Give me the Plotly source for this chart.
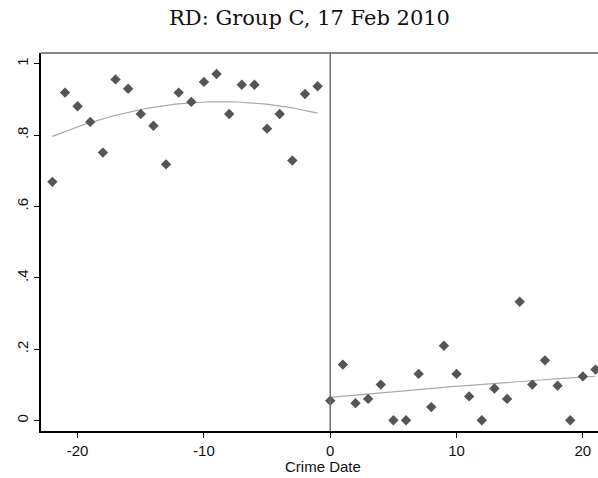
import numpy as np
import plotly.graph_objects as go

title_text = "RD: Group C, 17 Feb 2010"
x_title = "Crime Date"

x_left = list(range(-22, 0))
y_left = [0.669, 0.919, 0.881, 0.837, 0.751, 0.956, 0.930, 0.859, 0.826, 0.718, 0.919,
          0.893, 0.949, 0.971, 0.859, 0.941, 0.941, 0.818, 0.859, 0.729, 0.915, 0.937]

x_right = list(range(0, 22))
y_right = [0.056, 0.157, 0.049, 0.061, 0.101, 0.001, 0.001, 0.131, 0.038, 0.210, 0.131,
           0.068, 0.001, 0.090, 0.061, 0.333, 0.101, 0.169, 0.098, 0.001, 0.124, 0.143]

x_ticks = [-20, -10, 0, 10, 20]
x_tick_labels = ["-20", "-10", "0", "10", "20"]
y_ticks = [0, 0.2, 0.4, 0.6, 0.8, 1]
y_tick_labels = ["0", ".2", ".4", ".6", ".8", "1"]

# quadratic fits on each side of the cutoff
cl = np.polyfit(x_left, y_left, 2)
cr = np.polyfit(x_right, y_right, 2)
xl_fit = np.linspace(-22, -1, 60)
xr_fit = np.linspace(0, 21, 60)

marker_color = "#555555"
fit_color = "#a8a8a8"
sans = "Liberation Sans, Arial, sans-serif"

fig = go.Figure()
fig.add_trace(go.Scatter(x=xl_fit, y=np.polyval(cl, xl_fit), mode="lines",
                         line=dict(color=fit_color, width=1.2), showlegend=False))
fig.add_trace(go.Scatter(x=xr_fit, y=np.polyval(cr, xr_fit), mode="lines",
                         line=dict(color=fit_color, width=1.2), showlegend=False))
fig.add_trace(go.Scatter(x=x_left, y=y_left, mode="markers",
                         marker=dict(symbol="diamond", size=8, color=marker_color),
                         showlegend=False))
fig.add_trace(go.Scatter(x=x_right, y=y_right, mode="markers",
                         marker=dict(symbol="diamond", size=8, color=marker_color),
                         showlegend=False))

# vertical cutoff line and top frame
fig.add_shape(type="line", xref="x", yref="paper", x0=0, x1=0, y0=0, y1=1,
              line=dict(color="#707070", width=1.5))
fig.add_shape(type="line", xref="paper", yref="paper", x0=0, x1=1, y0=1, y1=1,
              line=dict(color="#606060", width=1.5))

fig.add_annotation(text=title_text, xref="paper", yref="paper", x=0.482, y=1,
                   xanchor="center", yanchor="middle", yshift=35, showarrow=False,
                   font=dict(family="DejaVu Serif, Liberation Serif, serif", size=21, color="#111"))
fig.add_annotation(text=x_title, xref="paper", yref="paper", x=0.507, y=0,
                   xanchor="center", yanchor="middle", yshift=-35, showarrow=False,
                   font=dict(family=sans, size=15, color="#111"))

fig.update_layout(
    width=598, height=478,
    margin=dict(l=41, r=0, t=53, b=47),
    paper_bgcolor="white", plot_bgcolor="white",
    font=dict(family=sans, size=15, color="#111"),
    xaxis=dict(range=[-22.9, 21.2], tickvals=x_ticks, ticktext=x_tick_labels,
               showgrid=False, zeroline=False,
               showline=True, linecolor="black", linewidth=2, ticks="outside",
               ticklen=5, tickcolor="black", tickwidth=1),
    yaxis=dict(range=[-0.029, 1.03], tickvals=y_ticks, ticktext=y_tick_labels,
               tickangle=-90, showgrid=False, zeroline=False,
               showline=True, linecolor="black", linewidth=2, ticks="outside",
               ticklen=5, tickcolor="black", tickwidth=1),
)

fig.write_html("out.html")
